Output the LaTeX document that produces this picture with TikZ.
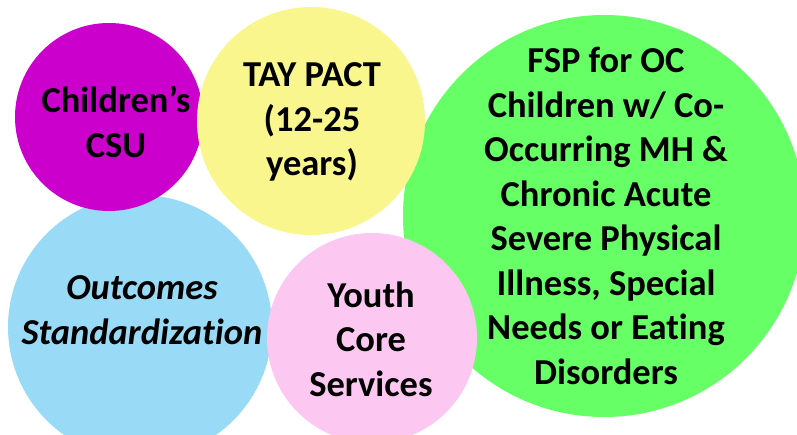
\documentclass[tikz,border=0pt]{standalone}
\usepackage{fontspec}
\setmainfont{Carlito}[Ligatures=NoCommon]
\usepackage{tikz}
\definecolor{csuPurple}{RGB}{204,0,204}
\definecolor{tayYellow}{RGB}{248,246,140}
\definecolor{fspGreen}{RGB}{102,255,102}
\definecolor{outBlue}{RGB}{153,218,247}
\definecolor{youthPink}{RGB}{252,200,242}

\begin{document}
\begin{tikzpicture}[x=1pt, y=-1pt, bubble/.style = {circle, draw=none, inner sep=0pt}, txt/.style = {align=center, font=\fontsize{36.5}{44.5}\selectfont\bfseries}]
	\useasboundingbox (0,0) rectangle (797,435);
	\node[bubble, fill=fspGreen, minimum size=402pt] (fsp) at (604,216){};
	\node[bubble, fill=outBlue, minimum size=264pt] (outcomes) at (140,327){};
	\node[bubble, fill=csuPurple, minimum size=188pt] (csu) at (109,117){};
	\node[bubble, fill=tayYellow, minimum size=228pt] (tay) at (311,121){};
	\node[bubble, fill=youthPink, minimum size=210pt] (youth) at (372,338){};
	\node[txt] (csuText) at (116,122){Children’s\\CSU};
	\node[txt] (tayText) at (312,122){TAY PACT\\(12-25\\years)};
	\node[txt] (fspText) at (606,216){FSP for OC\\Children w/ Co-\\Occurring MH \&\\Chronic Acute\\Severe Physical\\Illness, Special\\Needs or Eating\\Disorders};
	\node[txt, font=\fontsize{36.5}{44.5}\selectfont\bfseries\itshape] (outcomesText) at (142,310){Outcomes\\Standardization};
	\node[txt] (youthText) at (371,339){Youth\\Core\\Services};
\end{tikzpicture}
\end{document}
